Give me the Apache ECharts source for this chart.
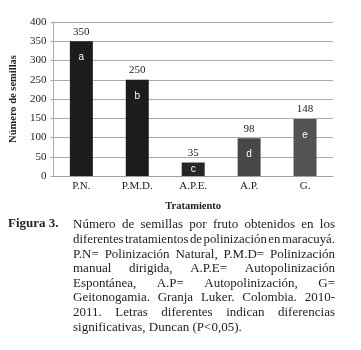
<!DOCTYPE html>
<html>
<head>
<meta charset="utf-8">
<script src="https://cdn.jsdelivr.net/npm/echarts@6/dist/echarts.min.js"></script>
<style>
html,body{margin:0;padding:0;background:#fff;}
#chart{width:361px;height:350px;}
</style>
</head>
<body>
<div id="chart"></div>
<script>
// ---- data ----
const categories = ['P.N.', 'P.M.D.', 'A.P.E.', 'A.P.', 'G.'];
const seedCounts = [350, 250, 35, 98, 148];
const groupLetters = ['a', 'b', 'c', 'd', 'e'];
const yAxisName = 'Número de semillas';
const xAxisName = 'Tratamiento';
const captionTitle = 'Figura 3.';
const captionLines = [
  'Número de semillas por fruto obtenidos en los',
  'diferentes tratamientos de polinización en maracuyá.',
  'P.N= Polinización Natural, P.M.D= Polinización',
  'manual dirigida, A.P.E= Autopolinización',
  'Espontánea, A.P= Autopolinización, G=',
  'Geitonogamia. Granja Luker. Colombia. 2010-',
  '2011. Letras diferentes indican diferencias',
  'significativas, Duncan (P<0,05).'
];

// ---- styles ----
const barColors = ['#1c1c1c', '#1c1c1c', '#262626', '#474747', '#535353'];
const SERIF = "'Liberation Serif', 'Times New Roman', serif";
const SANS = "'Liberation Sans', Arial, sans-serif";

// caption layout (justified text)
const capFontSize = 13;
const capLeft = 73, capRight = 335, capTop = 225, capLineH = 14.6;
const ctx = document.createElement('canvas').getContext('2d');
ctx.font = capFontSize + 'px ' + SERIF;
const graphics = [];
graphics.push({
  type: 'text', left: 8, top: capTop - 8,
  style: { text: captionTitle, font: 'bold ' + capFontSize + 'px ' + SERIF, fill: '#222' }
});
captionLines.forEach((line, i) => {
  const y = capTop + i * capLineH;
  const words = line.split(' ');
  const widths = words.map(w => ctx.measureText(w).width);
  const sum = widths.reduce((a, b) => a + b, 0);
  const target = capRight - capLeft;
  const last = i === captionLines.length - 1;
  let gap = last ? ctx.measureText(' ').width : (target - sum) / Math.max(1, words.length - 1);
  let scale = 1;
  const minGap = 1.5;
  if (!last && gap < minGap) {
    gap = minGap;
    scale = target / (sum + minGap * (words.length - 1));
  }
  let x = capLeft;
  words.forEach((w, k) => {
    graphics.push({
      type: 'text', x: x, y: y, scaleX: scale, originX: 0,
      style: { text: w, font: capFontSize + 'px ' + SERIF, fill: '#222', textVerticalAlign: 'middle', verticalAlign: 'middle' }
    });
    x += (widths[k] + gap) * scale;
  });
});

const chart = echarts.init(document.getElementById('chart'), null, { renderer: 'canvas' });
chart.setOption({
  animation: false,
  backgroundColor: '#fff',
  grid: { left: 48, right: 28, top: 22, bottom: 174, containLabel: false },
  xAxis: {
    type: 'category',
    data: categories,
    name: xAxisName,
    nameLocation: 'middle',
    nameGap: 25,
    nameTextStyle: { fontFamily: SERIF, fontWeight: 'bold', fontSize: 10.5, color: '#222' },
    axisLine: { show: true, lineStyle: { color: '#a0a0a0' } },
    axisTick: { show: false },
    axisLabel: { fontFamily: SERIF, fontSize: 11, color: '#222', margin: 5 }
  },
  yAxis: {
    type: 'value',
    min: 0, max: 400, interval: 50,
    name: yAxisName,
    nameLocation: 'middle',
    nameGap: 31,
    nameRotate: 90,
    nameTextStyle: { fontFamily: SERIF, fontWeight: 'bold', fontSize: 10.5, color: '#222' },
    axisLine: { show: true, lineStyle: { color: '#a8a8a8' } },
    axisTick: { show: true, length: 3, lineStyle: { color: '#a8a8a8' } },
    axisLabel: { fontFamily: SERIF, fontSize: 11, color: '#222', margin: 7 },
    splitLine: { show: true, lineStyle: { color: '#ababab', width: 1 } }
  },
  series: [
    {
      type: 'bar',
      barWidth: 23,
      data: seedCounts.map((v, i) => ({ value: v, itemStyle: { color: barColors[i] } })),
      label: { show: true, position: 'top', distance: 4, fontFamily: SERIF, fontSize: 11, color: '#222' },
      z: 2
    },
    {
      type: 'bar',
      barWidth: 23,
      barGap: '-100%',
      data: seedCounts.map((v, i) => ({
        value: v,
        label: v < 60 ? { position: 'inside' } : {}
      })),
      itemStyle: { color: 'rgba(0,0,0,0)' },
      label: {
        show: true, position: 'insideTop', distance: 11,
        formatter: p => groupLetters[p.dataIndex],
        fontFamily: SANS, fontSize: 10, color: '#fff'
      },
      z: 3
    }
  ],
  graphic: graphics
});
</script>
</body>
</html>
